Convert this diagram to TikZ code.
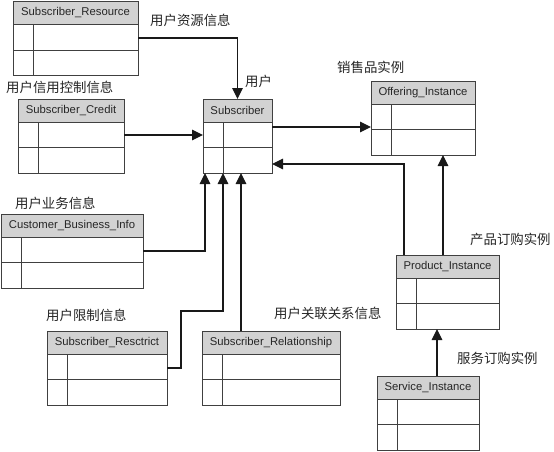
\documentclass[tikz,border=0pt]{standalone}
\usepackage{fontspec}
\setmainfont{Liberation Sans}
\newfontfamily\cjk{Noto Sans CJK SC}
\usetikzlibrary{arrows.meta}
\definecolor{hdr}{HTML}{D2D2D2}
\definecolor{bd}{HTML}{404040}
\tikzset{
  tblbox/.style={inner sep=0pt, outer sep=0pt, minimum height=74pt},
  tblline/.style={draw=bd, line width=0.9pt},
  titletext/.style={font=\fontsize{11.3}{13}\selectfont, text=black!85, inner sep=0pt},
  lbl/.style={font=\cjk\fontsize{13.4}{15}\selectfont, text=black!85, anchor=west, inner sep=0pt},
  arr/.style={draw=black!90, line width=1.1pt, -{Triangle[length=11pt,width=10.5pt]}},
}
\newcommand{\umltbl}[5]{%
  \node[tblbox, minimum width=#4pt, anchor=north west] (#1) at (#2,#3) {};
  \fill[hdr] (#1.north west) rectangle ([yshift=-23pt]#1.north east);
  \draw[tblline] ([yshift=-23pt]#1.north west) -- ([yshift=-23pt]#1.north east);
  \draw[tblline] ([yshift=-48.5pt]#1.north west) -- ([yshift=-48.5pt]#1.north east);
  \draw[tblline] ([yshift=-23pt,xshift=20.5pt]#1.north west) -- ([xshift=20.5pt]#1.south west);
  \node[titletext] at ([yshift=-11.5pt]#1.north) {#5};
  \draw[tblline] (#1.north west) rectangle (#1.south east);
}
\begin{document}
\begin{tikzpicture}[x=1pt,y=-1pt]
\useasboundingbox[fill=white] (0,0) rectangle (554,451);
\umltbl{res}{13}{1.5}{125}{Subscriber\_Resource}
\umltbl{cred}{18}{99}{106}{Subscriber\_Credit}
\umltbl{sub}{203}{99}{69}{Subscriber}
\umltbl{off}{371}{81}{104}{Offering\_Instance}
\umltbl{bus}{1}{214}{142}{Customer\_Business\_Info}
\umltbl{prod}{396}{255}{103}{Product\_Instance}
\umltbl{rst}{47}{331}{120}{Subscriber\_Resctrict}
\umltbl{rel}{202}{331}{138}{Subscriber\_Relationship}
\umltbl{serv}{377}{376}{102}{Service\_Instance}

% connectors
\draw[arr] (res.east |- 0,38) -| (sub.north);
\draw[arr] (cred.east |- 0,135) -- (sub.west |- 0,135);
\draw[arr] (sub.east |- 0,127) -- (off.west |- 0,127);
\draw[arr] (prod.north -| 404,0) |- (sub.east |- 0,164);
\draw[arr] (prod.north -| 443,0) -- (off.south -| 443,0);
\draw[arr] (serv.north -| 437,0) -- (prod.south -| 437,0);
\draw[arr] (bus.east |- 0,251) -| (sub.south -| 205,0);
\coordinate (bend) at (181,368);
\draw[arr] (rst.east |- bend) -- (bend) |- (223,311) -- (sub.south -| 223,0);
\draw[arr] (rel.north -| 241,0) -- (sub.south -| 241,0);

% labels
\node[lbl] (l1) at (150,20) {用户资源信息};
\node[lbl] (l2) at (245,81) {用户};
\node[lbl] (l3) at (6,87) {用户信用控制信息};
\node[lbl] (l4) at (337,67) {销售品实例};
\node[lbl] (l5) at (15,203) {用户业务信息};
\node[lbl] (l6) at (470,239) {产品订购实例};
\node[lbl] (l7) at (46,315) {用户限制信息};
\node[lbl] (l8) at (274,313) {用户关联关系信息};
\node[lbl] (l9) at (457,358) {服务订购实例};
\end{tikzpicture}
\end{document}
